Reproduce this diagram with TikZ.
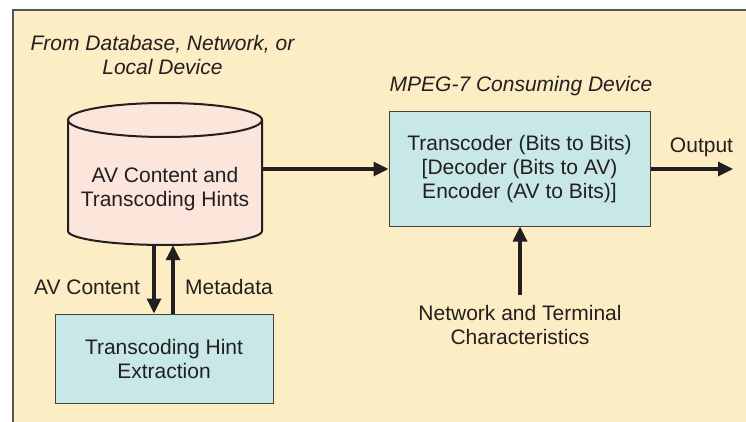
\documentclass[tikz,border=0pt]{standalone}
\usepackage{fontspec}
\setmainfont{Liberation Sans}
\usetikzlibrary{arrows.meta}
\definecolor{cream}{HTML}{FDEDC4}
\definecolor{cylfill}{HTML}{FCE5DB}
\definecolor{boxfill}{HTML}{C7E8E7}
\definecolor{ink}{HTML}{231F20}
\definecolor{framec}{HTML}{555555}
\begin{document}
\begin{tikzpicture}[x=1pt,y=-1pt,
  txt/.style={font=\fontsize{21}{24}\selectfont, text=ink, align=center, inner sep=0pt},
  itxt/.style={txt, font=\fontsize{21}{24}\selectfont\itshape},
  blockbox/.style={txt, draw=ink!85, line width=1pt, fill=boxfill},
  arr/.style={draw=ink, line width=3.3pt, -{Triangle[length=15pt,width=14pt]}}
]
\useasboundingbox (0,0) rectangle (746,422);
\fill[white] (0,0) rectangle (746,422);
\fill[cream] (13,10) rectangle (746,422);
\draw[framec, line width=1.3pt] (13,422) -- (13,10) -- (746,10);

% cylinder
\fill[cylfill] (68,120) -- (68,231) arc[start angle=180, end angle=0, x radius=97, y radius=14] -- (262,120) -- cycle;
\fill[cylfill] (165,120) ellipse [x radius=97, y radius=17];
\draw[ink, line width=2pt] (68,120) -- (68,231) arc[start angle=180, end angle=0, x radius=97, y radius=14] -- (262,120);
\draw[ink, line width=2pt] (165,120) ellipse [x radius=97, y radius=17];
\node[txt, minimum width=194pt, minimum height=112pt] (cyl) at (165,189) {AV Content and\\Transcoding Hints};

\node[itxt] (src) at (162.5,55) {From Database, Network, or\\Local Device};
\node[itxt, anchor=base] (dev) at (521,92) {MPEG-7 Consuming Device};

\node[blockbox, minimum width=261pt, minimum height=114pt] (tc) at (519.5,169)
  {Transcoder (Bits to Bits)\\{}[Decoder (Bits to AV)\\Encoder (AV to Bits)]};

\node[blockbox, minimum width=218pt, minimum height=89pt] (hx) at (164,358.5)
  {Transcoding Hint\\Extraction};

\node[txt, anchor=base] (out) at (701.5,153) {Output};
\node[txt, anchor=base] (avl) at (87,294) {AV Content};
\node[txt, anchor=base] (mdl) at (229,294) {Metadata};
\node[txt] (net) at (520,325) {Network and Terminal\\Characteristics};

\coordinate (outend) at (733,169);

\draw[arr] (cyl.east |- tc.west) -- (tc.west);
\draw[arr] (tc.east) -- (outend);
\draw[arr] ([xshift=-11pt]cyl.south) -- ([xshift=-11pt]cyl.south |- hx.north);
\draw[arr] ([xshift=8pt]cyl.south |- hx.north) -- ([xshift=8pt]cyl.south);
\draw[arr] ([yshift=10pt]net.north) -- (net.north |- tc.south);
\end{tikzpicture}
\end{document}
